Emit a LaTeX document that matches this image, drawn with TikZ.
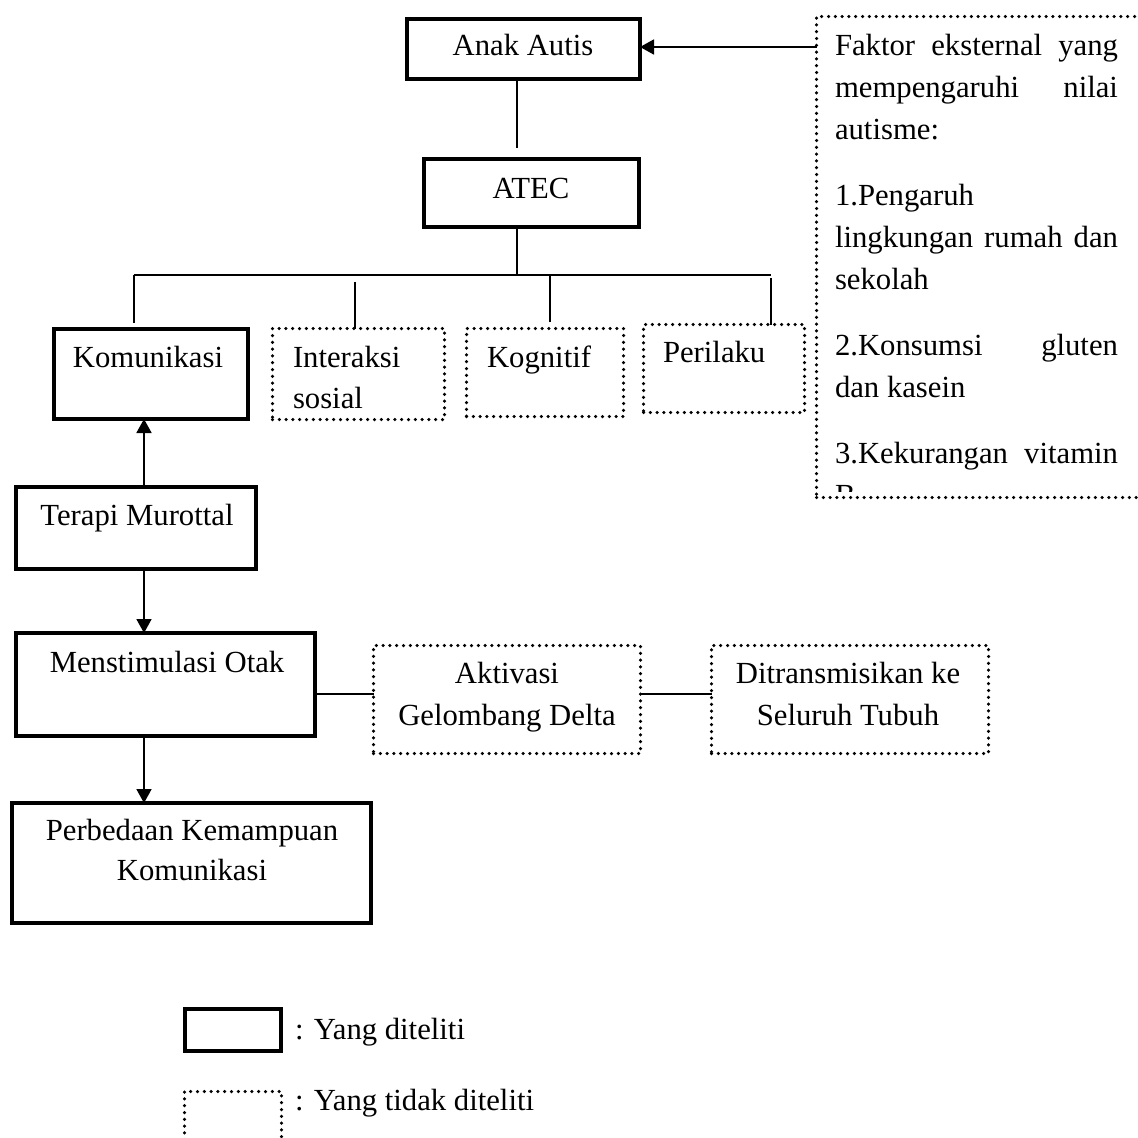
\documentclass[tikz,border=0pt]{standalone}
\usepackage{fontspec}
\setmainfont{Liberation Serif}
\usetikzlibrary{arrows.meta,calc}
\begin{document}
\begin{tikzpicture}[x=1pt,y=-1pt,
  every node/.style={inner sep=0pt, outer sep=0pt},
  sbox/.style={draw, line width=4pt, rectangle},
  dbox/.style={draw, line width=3.5pt, dash pattern=on 0pt off 6.8pt, line cap=round, rectangle},
  conn/.style={line width=1.8pt},
  arr/.style={conn, -{Triangle[length=14pt,width=15pt]}},
  txt/.style={font=\fontsize{30.7}{42}\selectfont, anchor=base},
  txtl/.style={txt, anchor=base west}]
\useasboundingbox (0,0) rectangle (1138,1138);
\clip (0,0) rectangle (1138,1138);

% solid boxes
\node[sbox, minimum width=233pt, minimum height=60pt] (autis) at (523.5,49) {};
\node[sbox, minimum width=215pt, minimum height=68pt] (atec) at (531.5,193) {};
\node[sbox, minimum width=194pt, minimum height=90pt] (kom) at (151,374) {};
\node[sbox, minimum width=240pt, minimum height=82pt] (terapi) at (136,528) {};
\node[sbox, minimum width=299pt, minimum height=103pt] (stim) at (165.5,684.5) {};
\node[sbox, minimum width=359pt, minimum height=120pt] (perb) at (191.5,863) {};
\node[sbox, minimum width=96pt, minimum height=42pt] (legS) at (233,1030) {};

% dotted boxes
\node[dbox, minimum width=172pt, minimum height=91pt] (inter) at (358.5,374) {};
\node[dbox, minimum width=157pt, minimum height=88pt] (kog) at (545,372.5) {};
\node[dbox, minimum width=161pt, minimum height=88pt] (peri) at (724,368.5) {};
\node[dbox, minimum width=343.5pt, minimum height=481pt] (ext) at (988.25,257) {};
\node[dbox, minimum width=267pt, minimum height=108pt] (akt) at (507,699.5) {};
\node[dbox, minimum width=277pt, minimum height=108pt] (dit) at (850,699.5) {};
\node[dbox, minimum width=97pt, minimum height=57pt] (legD) at (233,1120) {};

% texts
\node[txt] (autisT) at (523,55) {Anak Autis};
\node[txt] (atecT) at (531,198) {ATEC};
\node[txt] (komT) at (148,367) {Komunikasi};
\node[txtl] (interT1) at (293,367) {Interaksi};
\node[txtl] (interT2) at (293,408) {sosial};
\node[txtl] (kogT) at (487,367) {Kognitif};
\node[txtl] (periT) at (663,362) {Perilaku};
\node[txt] (terT) at (137,525) {Terapi Murottal};
\node[txt] (stimT) at (167,672) {Menstimulasi Otak};
\node[txt] (aktT1) at (507,683) {Aktivasi};
\node[txt] (aktT2) at (507,725) {Gelombang Delta};
\node[txt] (ditT1) at (848,683) {Ditransmisikan ke};
\node[txt] (ditT2) at (848,725) {Seluruh Tubuh};
\node[txt] (perbT1) at (192,840) {Perbedaan Kemampuan};
\node[txt] (perbT2) at (192,880) {Komunikasi};
\node[txtl] (legT1) at (295,1039) {: Yang diteliti};
\node[txtl] (legT2) at (295,1110) {: Yang tidak diteliti};

\begin{scope}
\clip (815,15) rectangle (1138,491);
\node[anchor=base west] (extT) at (835,55) {\begin{minipage}[t]{283pt}\fontsize{30.7}{42}\selectfont
\hbox to\hsize{Faktor\hfill eksternal\hfill yang}
\hbox to\hsize{mempengaruhi\hfill nilai}
\hbox to\hsize{autisme:\hfill}
\vskip24pt
\hbox to\hsize{1.Pengaruh\hfill}
\hbox to\hsize{lingkungan\hfill rumah\hfill dan}
\hbox to\hsize{sekolah\hfill}
\vskip24pt
\hbox to\hsize{2.Konsumsi\hfill gluten}
\hbox to\hsize{dan kasein\hfill}
\vskip24pt
\hbox to\hsize{3.Kekurangan\hfill vitamin}
\hbox to\hsize{B\hfill}
\end{minipage}};
\end{scope}

% connectors
\coordinate (bus) at (517,275);
\coordinate (busL) at (134,275);
\coordinate (busR) at (771,275);
\coordinate (d2) at (355,282);
\coordinate (d3) at (550,275);
\coordinate (d4) at (771,278);
\coordinate (ax) at (144,600);
\coordinate (hy) at (0,694);
\coordinate (ey) at (0,47);

\draw[conn] (autis.south -| bus) -- ($(atec.north -| bus)+(0,-11)$);
\draw[conn] (atec.south -| bus) -- (bus);
\draw[conn] (busL) -- (busR);
\draw[conn, shorten >=6pt] (busL) -- (kom.north -| busL);
\draw[conn] (d2) -- (inter.north -| d2);
\draw[conn, shorten >=7pt] (d3) -- (kog.north -| d3);
\draw[conn] (d4) -- (peri.north -| d4);

\draw[arr] (ext.west |- ey) -- (autis.east |- ey);
\draw[arr] (terapi.north -| ax) -- (kom.south -| ax);
\draw[arr] (terapi.south -| ax) -- (stim.north -| ax);
\draw[arr] (stim.south -| ax) -- (perb.north -| ax);
\draw[conn] (stim.east |- hy) -- (akt.west |- hy);
\draw[conn] (akt.east |- hy) -- (dit.west |- hy);
\end{tikzpicture}
\end{document}
